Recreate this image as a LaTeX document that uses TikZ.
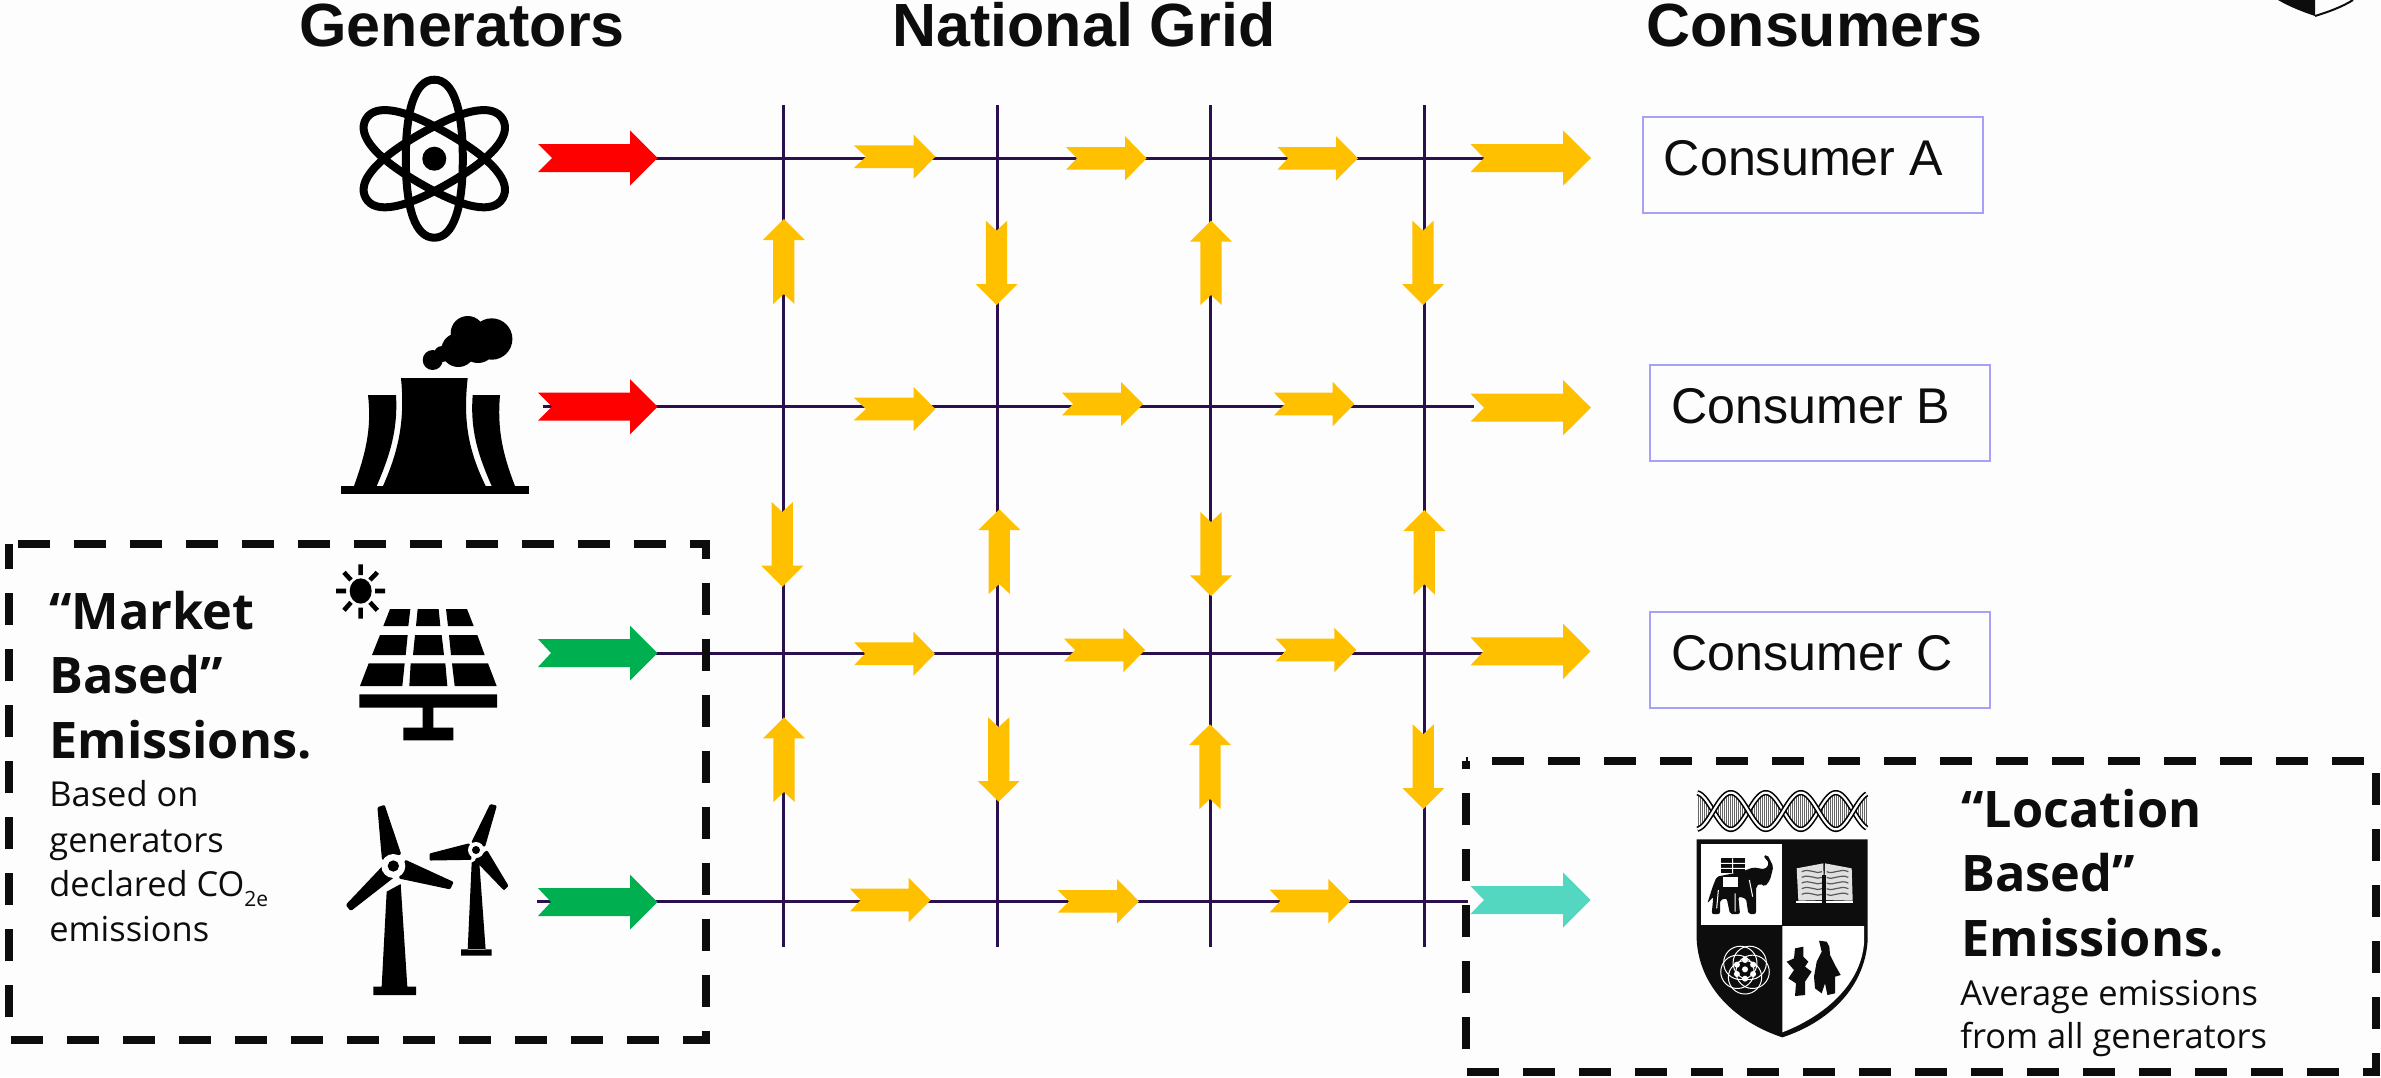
\documentclass[tikz,border=0pt]{standalone}
\usepackage{fontspec}
\setmainfont{Open Sans}
\newfontfamily\hdrfont{Liberation Sans}
\definecolor{bgc}{HTML}{FDFDFD}
\definecolor{inkc}{HTML}{0D0D0D}
\definecolor{gridc}{HTML}{2B1050}
\definecolor{boxc}{HTML}{A6A0F8}
\definecolor{yelc}{HTML}{FFC000}
\definecolor{grnc}{HTML}{00B050}
\definecolor{tealc}{HTML}{53D7C0}
\definecolor{redc}{HTML}{FF0000}
\tikzset{
  gridline/.style={draw=gridc,line width=1.5pt},
  dashbox/.style={draw=inkc,line width=4pt,dash pattern=on 16pt off 12pt},
  consbox/.style={draw=boxc,line width=1pt},
  hdr/.style={anchor=base west,inner sep=0pt,text=inkc,font=\hdrfont\bfseries\fontsize{30.5}{36}\selectfont},
  cons/.style={anchor=base west,inner sep=0pt,text=inkc,font=\hdrfont\fontsize{25.1}{30}\selectfont},
  bigt/.style={anchor=base west,inner sep=0pt,text=inkc,font=\bfseries\fontsize{25.2}{30}\selectfont},
  smallt/.style={anchor=base west,inner sep=0pt,text=inkc,font=\fontsize{17.2}{20}\selectfont},
  atomring/.style={draw=black,line width=4pt},
}
% colour, tail, notch, shoulder, tip, y, body half, head half
\newcommand\hflow[8]{\fill[#1] (#2,#6-#7) -- (#4,#6-#7) -- (#4,#6-#8) -- (#5,#6) -- (#4,#6+#8) -- (#4,#6+#7) -- (#2,#6+#7) -- (#3,#6) -- cycle;}
% x, tail, notch, shoulder, tip
\newcommand\vflow[5]{\fill[yelc] (#1-10.6,#2) -- (#1,#3) -- (#1+10.6,#2) -- (#1+10.6,#4) -- (#1+21,#4) -- (#1,#5) -- (#1-21,#4) -- (#1-10.6,#4) -- cycle;}
\begin{document}
\begin{tikzpicture}[x=0.5pt,y=-0.5pt]
\useasboundingbox (0,0) rectangle (2381,1077);
\fill[bgc] (0,0) rectangle (2381,1077);

% fragment of crest at top right
\fill[inkc] (2278,0) .. controls (2290,7) and (2303,12) .. (2315,16) -- (2315,0) -- cycle;
\draw[inkc,line width=1pt] (2315,16) .. controls (2328,12) and (2342,7) .. (2353,0);

% grid end points
\foreach \n/\x in {1/783,2/997,3/1210.5,4/1424}{
  \coordinate (v\n t) at (\x,105);
  \coordinate (v\n b) at (\x,947);
  \draw[gridline] (v\n t) -- (v\n b);
}
\coordinate (r1a) at (552,158.3); \coordinate (r1b) at (1484,158.3);
\coordinate (r2a) at (543,406);   \coordinate (r2b) at (1474,406);
\coordinate (r3a) at (552,653.7); \coordinate (r3b) at (1483,653.7);
\coordinate (r4a) at (537,901.7); \coordinate (r4b) at (1468,901.7);
\foreach \n in {1,2,3,4}{\draw[gridline] (r\n a) -- (r\n b);}

% dashed boxes
\draw[dashbox,dash phase=23.75pt] (9,543.5) -- (706,543.5) -- (706,1039.7) -- (9,1039.7) -- cycle;
\draw[dashbox,dash phase=14.7pt] (1465.7,760.7) -- (2376,760.7) -- (2376,1072) -- (1465.7,1072) -- cycle;

% generator arrows
\hflow{redc}{538}{552}{630}{657.7}{158}{14}{27.7}
\hflow{redc}{538}{552}{630}{657.7}{406.7}{14}{27.7}
\hflow{grnc}{538}{551}{630}{657.5}{653}{14}{27.5}
\hflow{grnc}{538}{551}{630}{657.5}{902}{14}{27.5}
% consumer arrows
\hflow{yelc}{1470.5}{1484}{1563}{1591}{158}{14}{27.7}
\hflow{yelc}{1470.5}{1484}{1563}{1591}{407.7}{14}{27.7}
\hflow{yelc}{1470.5}{1483.5}{1563}{1590.5}{651.3}{14}{27.7}
\hflow{tealc}{1470.5}{1484}{1563}{1590.5}{900}{14}{27.5}
% grid horizontal arrows
\hflow{yelc}{853.8}{866}{913.5}{935.4}{156.7}{11.3}{22.2}
\hflow{yelc}{1066}{1077}{1125}{1146.6}{158.3}{11.3}{22.2}
\hflow{yelc}{1277.5}{1288}{1336}{1358}{158.3}{11.3}{22.2}
\hflow{yelc}{853.8}{866}{913.5}{935.4}{409}{11.3}{22.2}
\hflow{yelc}{1062}{1073}{1121}{1143}{404}{11.3}{22.2}
\hflow{yelc}{1274}{1285}{1332.6}{1354.4}{404}{11.3}{22.2}
\hflow{yelc}{854.3}{865}{913.3}{935}{653.7}{11.3}{22.2}
\hflow{yelc}{1064}{1075}{1123.3}{1145}{650}{11.3}{22.2}
\hflow{yelc}{1275.7}{1286.3}{1334.3}{1356.3}{650}{11.3}{22.2}
\hflow{yelc}{850}{860.7}{908.7}{930.7}{900}{11.3}{22.2}
\hflow{yelc}{1057.7}{1069}{1117}{1139}{901.3}{11.3}{22.2}
\hflow{yelc}{1269.7}{1280.3}{1328.3}{1350.3}{901}{11.3}{22.2}
% grid vertical arrows
\vflow{783.8}{304}{294}{240}{219}
\vflow{996.5}{220.7}{230.7}{284}{305}
\vflow{1211}{305}{295}{241.7}{220.7}
\vflow{1423}{220.7}{230.7}{284}{305}
\vflow{782.3}{502}{512}{565.7}{586.7}
\vflow{999.3}{594}{584}{530}{509.3}
\vflow{1211}{512}{522}{575.3}{596}
\vflow{1424.3}{594.7}{584.3}{531}{510}
\vflow{784}{802}{792}{738.3}{717.3}
\vflow{998.7}{717.3}{727}{781}{801.7}
\vflow{1210}{809}{799}{745}{724.3}
\vflow{1423.3}{724.3}{734.3}{788}{809}

% consumer boxes
\node[consbox,draw,minimum width=170.2pt,minimum height=48pt,inner sep=0pt] (boxa) at (1812.85,164.85) {};
\node[consbox,draw,minimum width=170pt,minimum height=48pt,inner sep=0pt] (boxb) at (1820.3,413) {};
\node[consbox,draw,minimum width=170pt,minimum height=48pt,inner sep=0pt] (boxc) at (1820.3,660) {};
\node[cons] (ca) at (1663.5,175) {Consumer A};
\node[cons] (cb) at (1671,423.5) {Consumer B};
\node[cons] (cc) at (1671,670.5) {Consumer C};

% headers
\node[hdr] (hgen) at (299,46) {Generators};
\node[hdr] (hgrid) at (892,46) {National Grid};
\node[hdr] (hcons) at (1646,46) {Consumers};

% left text
\node[bigt] (m1) at (49,629.7) {“Market};
\node[bigt] (m2) at (49,693.4) {Based”};
\node[bigt] (m3) at (49,758) {Emissions.};
\node[smallt] (m4) at (49,806) {Based on};
\node[smallt] (m5) at (49,852) {generators};
\node[smallt] (m6) at (49,896.5) {declared CO{\fontsize{10.5}{12}\selectfont\raisebox{-4.8pt}{2e}}};
\node[smallt] (m7) at (49,941) {emissions};
% right text
\node[bigt] (l1) at (1961,827.3) {“Location};
\node[bigt] (l2) at (1961,891) {Based”};
\node[bigt] (l3) at (1961,956) {Emissions.};
\node[smallt] (l4) at (1960,1005) {Average emissions};
\node[smallt] (l5) at (1960,1048) {from all generators};

% atom
\begin{scope}[shift={(434.3,158.7)}]
  \foreach \a in {0,60,-60}
    \draw[atomring,rotate=\a] (0,-79) .. controls (19,-79) and (28.5,-50) .. (28.5,0) .. controls (28.5,50) and (19,79) .. (0,79) .. controls (-19,79) and (-28.5,50) .. (-28.5,0) .. controls (-28.5,-50) and (-19,-79) .. (0,-79) -- cycle;
  \fill[black] (0,0) circle [radius=12];
\end{scope}

% cooling tower
\fill[black] (341,486) rectangle (529,494);
\fill[black] (401,378) -- (467.7,378) .. controls (463,420) and (468,450) .. (485.7,486) -- (383,486) .. controls (399,450) and (405,420) .. (401,378) -- cycle;
\fill[black] (368,395) -- (396,395) .. controls (398,430) and (390,455) .. (376.7,486) -- (354,486) .. controls (365,455) and (372,430) .. (368,395) -- cycle;
\fill[black] (472.7,395) -- (500,395) .. controls (497,430) and (503,455) .. (515,486) -- (491.7,486) .. controls (478,455) and (470,430) .. (472.7,395) -- cycle;
\fill[black] (491.7,339) circle [radius=20.7] (467.7,333) circle [radius=17] (458.3,350) circle [radius=17] (432.7,360) circle [radius=10] (442,354) circle [radius=8] (478,345) circle [radius=18];

% solar panel
\begin{scope}[shift={(320,560)},x=0.16667pt,y=-0.16667pt]
  \fill[black] (122,93) ellipse [x radius=33,y radius=38];
  \draw[black,line width=2.3pt] (122,13)--(122,45) (122,143)--(122,176) (48,93)--(78,93) (165,93)--(195,93)
     (72,37)--(93,60) (172,37)--(150,60) (72,151)--(93,127) (172,151)--(150,127);
  \fill[black] (210,147)--(271,147)--(265,198)--(190,198)--cycle
     (293,147)--(356,147)--(361,198)--(288,198)--cycle
     (378,147)--(441,147)--(461,198)--(384,198)--cycle
     (180,225)--(263,225)--(257,285)--(156,285)--cycle
     (285,225)--(365,225)--(372,285)--(279,285)--cycle
     (387,225)--(472,225)--(494,285)--(393,285)--cycle
     (146,310)--(254,310)--(247,378)--(120,378)--cycle
     (272,310)--(376,310)--(382,378)--(268,378)--cycle
     (396,310)--(504,310)--(530,378)--(404,378)--cycle
     (118,403) rectangle (531,443)
     (308,443) rectangle (340,503)
     (250,503) rectangle (400,541);
\end{scope}

% wind turbines
\begin{scope}[shift={(330,790)},x=0.16667pt,y=-0.16667pt]
  \fill[black] (170,305)--(212,282)--(232,590)--(155,590)--cycle (130,590) rectangle (258,615);
  \fill[black,draw=black,line width=1.5pt,line join=round] (147,55)--(161,50)--(208,190)--(160,205)--cycle;
  \fill[black,draw=black,line width=1.5pt,line join=round] (228,215)--(365,278)--(358,293)--(212,262)--cycle;
  \fill[black,draw=black,line width=1.5pt,line join=round] (53,345)--(160,232)--(185,262)--(63,357)--cycle;
  \fill[bgc] (190,228) circle [radius=36];
  \fill[black] (190,228) circle [radius=17];
  \fill[black] (425,218)--(447,205)--(467,480)--(413,480)--cycle (393,478) rectangle (485,497);
  \fill[black,draw=black,line width=1.5pt,line join=round] (483,47)--(495,50)--(462,165)--(430,155)--cycle;
  \fill[black,draw=black,line width=1.5pt,line join=round] (303,194)--(415,165)--(420,205)--(303,207)--cycle;
  \fill[black,draw=black,line width=1.5pt,line join=round] (470,187)--(530,287)--(522,295)--(440,210)--cycle;
  \fill[bgc] (438,180) circle [radius=24];
  \fill[black] (438,180) circle [radius=12];
\end{scope}

% crest
\begin{scope}[shift={(1670,780)},x=0.16667pt,y=-0.16667pt]
  % DNA band
  \foreach \x in {84,90,...,588}{
    \pgfmathsetmacro\hh{abs(55*sin((\x-130)*1.7143))}
    \draw[black!60,line width=0.5pt] (\x,93-\hh) -- (\x,93+\hh);
  }
  \draw[black,line width=0.8pt,double=white,double distance=1.1pt] plot[domain=82:590,samples=130,smooth] (\x,{93+55*sin((\x-130)*1.7143)});
  \draw[black,line width=0.8pt,double=white,double distance=1.1pt] plot[domain=82:590,samples=130,smooth] (\x,{93-55*sin((\x-130)*1.7143)});
  % shield
  \fill[inkc] (80,178) -- (593,178) -- (593,480) .. controls (585,620) and (480,725) .. (337,772) .. controls (195,725) and (88,620) .. (80,480) -- cycle;
  \fill[white] (92,192) rectangle (337,435);
  \fill[white] (337,438) -- (582,438) -- (582,490) .. controls (572,610) and (470,705) .. (337,757) -- cycle;
  % elephant
  \fill[inkc,rounded corners=1pt] (140,290)--(215,275)--(250,262)--(285,268)--(298,250)--(280,228)--(292,224)--(310,260)--(300,300)--(285,320)--(270,310)--(258,320)--(258,402)--(235,402)--(228,355)--(205,350)--(210,402)--(180,402)--(170,355)--(150,360)--(150,402)--(125,402)--(130,350)--(112,370)--(128,320)--cycle;
  \fill[white] (160,290) rectangle (205,322);
  \fill[inkc] (152,235) rectangle (225,280);
  \draw[white,line width=0.5pt] (152,250)--(225,250) (152,265)--(225,265) (188,235)--(188,280)
     (238,300)--(248,350) (145,330)--(140,385) (195,340)--(195,395);
  % book
  \fill[white!88!black] (380,265)--(460,250)--(462,360)--(385,362)--cycle (465,250)--(545,265)--(548,362)--(462,360)--cycle;
  \draw[white,line width=1pt] (378,367)--(548,367);
  \foreach \y in {275,292,...,345}{
    \draw[black!65,line width=0.6pt] (395,\y) .. controls (420,\y-12) and (440,\y+10) .. (456,\y);
    \draw[black!65,line width=0.6pt] (470,\y) .. controls (490,\y+10) and (510,\y-12) .. (535,\y);
  }
  \draw[inkc,line width=1.6pt] (462,285)--(462,372);
  % rose
  \foreach \a in {90,162,234,306,18}{
    \draw[white,line width=0.5pt] (225,568)++(\a:24) circle [radius=50];
  }
  \foreach \a in {90,150,210,270,330,30}{
    \fill[white] (225,568)++(\a:28) circle [radius=9];
  }
  \fill[white] (225,568) circle [radius=9];
  % oak and bear
  \fill[inkc] (375,505)--(400,500)--(400,530)--(415,545)--(405,560)--(425,575)--(405,605)--(405,645)--(375,648)--(378,610)--(355,595)--(372,570)--(350,545)--(372,535)--cycle;
  \fill[inkc] (447,482)--(470,485)--(478,500)--(480,525)--(495,555)--(512,585)--(495,590)--(495,640)--(472,645)--(465,610)--(455,640)--(435,625)--(432,590)--(440,545)--(455,515)--cycle;
\end{scope}
\end{tikzpicture}
\end{document}
